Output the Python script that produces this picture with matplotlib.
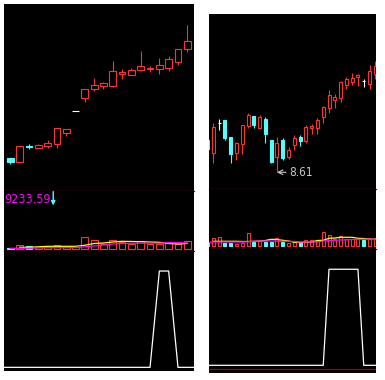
import matplotlib
matplotlib.use('Agg')
import matplotlib.pyplot as plt
import numpy as np
from matplotlib.patches import Rectangle

# left chart: 20 daily candles
l_open = [5.66, 5.59, 5.90, 5.87, 5.91, 5.95, 6.17, 6.61, 6.87, 7.05,
          7.11, 7.11, 7.35, 7.33, 7.43, 7.44, 7.45, 7.47, 7.59, 7.85]
l_high = [5.66, 5.90, 5.94, 5.94, 6.02, 6.26, 6.25, 6.61, 7.04, 7.26,
          7.19, 7.60, 7.44, 7.46, 7.80, 7.51, 7.66, 7.70, 7.84, 8.32]
l_low = [5.55, 5.59, 5.85, 5.87, 5.87, 5.87, 6.11, 6.61, 6.79, 7.01,
         7.05, 7.09, 7.25, 7.33, 7.41, 7.39, 7.35, 7.41, 7.53, 7.79]
l_close = [5.59, 5.90, 5.89, 5.92, 5.96, 6.26, 6.25, 6.61, 7.04, 7.13,
           7.16, 7.40, 7.37, 7.42, 7.49, 7.47, 7.52, 7.64, 7.84, 7.99]
l_vol = [160, 544, 384, 224, 224, 544, 224, 224, 1824, 1344,
         752, 1392, 1024, 752, 1232, 752, 752, 1072, 752, 1232]
l_vma1 = [64, 64, 64, 128, 160, 160, 160, 192, 304, 432,
          592, 752, 832, 864, 880, 880, 880, 992, 976, 912]
l_vma2 = [np.nan, 224, 224, 304, 384, 384, 384, 384, 544, 832,
          912, 1072, 1184, 1152, 1120, 1072, 1024, 832, 752, 832]
# signal, one value per day from day -1 to day 20
l_sig = [0, 0, 0, 0, 0, 0, 0, 0, 0, 0, 0, 0, 0, 0, 0, 0, 0, 1, 1, 0, 0, 0]
l_vol_label = '9233.59'

# right chart: 30 daily candles
r_open = [9.26, 8.99, 9.60, 9.66, 9.32, 8.99, 9.17, 9.54, 9.74, 9.50,
          9.68, 9.26, 8.92, 9.26, 8.92, 9.16, 9.32, 9.24, 9.50, 9.50,
          9.72, 9.90, 10.06, 10.10, 10.36, 10.42, 10.51, 10.44, 10.38, 10.58]
r_high = [9.26, 9.60, 9.68, 9.66, 9.32, 9.22, 9.56, 9.80, 9.74, 9.76,
          9.72, 9.26, 9.32, 9.30, 9.12, 9.36, 9.36, 9.56, 9.58, 9.70,
          9.94, 10.26, 10.18, 10.44, 10.52, 10.60, 10.58, 10.48, 10.76, 10.84]
r_low = [9.08, 8.80, 9.46, 9.26, 8.79, 8.86, 8.98, 9.50, 9.50, 9.48,
         9.20, 8.80, 8.61, 8.86, 8.88, 9.06, 9.14, 9.20, 9.38, 9.38,
         9.60, 9.80, 9.90, 10.02, 10.28, 10.36, 10.34, 10.32, 10.28, 10.48]
r_close = [9.08, 9.52, 9.60, 9.30, 8.98, 9.20, 9.56, 9.76, 9.56, 9.72,
           9.38, 8.82, 9.20, 8.90, 9.06, 9.30, 9.24, 9.52, 9.54, 9.66,
           9.92, 10.16, 10.12, 10.42, 10.48, 10.50, 10.55, 10.44, 10.64, 10.74]
r_vol = [528, 1328, 1488, 528, 528, 368, 528, 2128, 688, 848,
         688, 688, 1328, 688, 528, 688, 528, 1008, 1008, 848,
         2288, 1808, 1168, 1648, 1168, 1168, 1168, 1008, 1328, 1328]
r_vma1 = [608, 688, 688, 688, 688, 688, 688, 720, 816, 848,
          848, 848, 816, 800, 800, 768, 688, 688, 688, 688,
          848, 928, 960, 1008, 1040, 1088, 1120, 1120, 1120, 1120]
r_vma2 = [np.nan, 800, 800, 800, 800, 800, 768, 768, 800, 848,
          928, 1120, 1088, 960, 848, 640, 640, 640, 688, 928,
          960, 1280, 1328, 1440, 1440, 1440, 1280, 1248, 1120, 1120]
# signal, day -1 to day 30
r_sig = [0, 0, 0, 0, 0, 0, 0, 0, 0, 0, 0, 0, 0, 0, 0, 0, 0, 0, 0, 0,
         0, 0, 1, 1, 1, 1, 1, 1, 0, 0, 0, 0]
r_low_label = '8.61'

RED = '#ff3232'
CYAN = '#54fcfc'
DARKRED = '#a00000'

W, H = 385, 380
fig = plt.figure(figsize=(W / 100, H / 100), dpi=100)


def add_ax(x0, y0, x1, y1):
    ax = fig.add_axes([x0 / W, 1 - y1 / H, (x1 - x0) / W, (y1 - y0) / H])
    ax.set_facecolor('black')
    ax.set_xticks([])
    ax.set_yticks([])
    for s in ax.spines.values():
        s.set_visible(False)
    return ax


def candle_color(o, c, i):
    if c[i] > o[i]:
        return RED
    if c[i] < o[i]:
        return CYAN
    return 'white'


def vol_color(o, c, i):
    col = candle_color(o, c, i)
    if col == 'white':
        col = RED if i > 0 and c[i] >= c[i - 1] else CYAN
    return col


def draw_candles(ax, o, h, l, c, width):
    for i in range(len(o)):
        col = candle_color(o, c, i)
        ax.vlines(i, l[i], h[i], color=col, lw=0.8, zorder=2)
        if o[i] == c[i]:
            ax.hlines(o[i], i - width / 2, i + width / 2, color=col, lw=0.8, zorder=3)
        else:
            lo, hi = min(o[i], c[i]), max(o[i], c[i])
            face = 'black' if c[i] > o[i] else col
            ax.add_patch(Rectangle((i - width / 2, lo), width, hi - lo,
                                   facecolor=face, edgecolor=col, lw=0.8, zorder=3))


def draw_volume(ax, o, c, v, ma1, ma2, width):
    x = np.arange(len(v))
    cols = [vol_color(o, c, i) for i in range(len(v))]
    faces = ['black' if col == RED else col for col in cols]
    ax.bar(x, v, width=width, color=faces, edgecolor=cols, lw=0.8, zorder=2)
    ax.plot(x, ma2, color='#ffff00', lw=0.9, zorder=3)
    ax.plot(x, ma1, color='#ff00ff', lw=0.9, zorder=4)


def sep_line(ax):
    ax.spines['bottom'].set_visible(True)
    ax.spines['bottom'].set_color(DARKRED)
    ax.spines['bottom'].set_linewidth(0.9)


# ---- left chart
lxl = (-0.68, 19.72)
ax1 = add_ax(4, 4, 194, 191)
draw_candles(ax1, l_open, l_high, l_low, l_close, 0.72)
ax1.set_xlim(*lxl)
ax1.set_ylim(5.0, 8.74)
sep_line(ax1)

ax2 = add_ax(4, 191, 194, 251)
draw_volume(ax2, l_open, l_close, l_vol, l_vma1, l_vma2, 0.72)
ax2.set_xlim(*lxl)
ax2.set_ylim(-368, 9233.59)
sep_line(ax2)
ax2.text(0.002, 0.965, l_vol_label, transform=ax2.transAxes, color='#ff00ff',
         fontsize=9, family='DejaVu Sans', fontstretch='condensed', va='top', ha='left')
ax2.annotate('', xy=(0.259, 0.76), xytext=(0.259, 0.99), xycoords='axes fraction',
             arrowprops=dict(arrowstyle='-|>', color=CYAN, lw=1, mutation_scale=6,
                             shrinkA=0, shrinkB=0))

ax3 = add_ax(4, 251, 194, 371)
ax3.plot(np.arange(-1, len(l_sig) - 1), l_sig, color='white', lw=0.9)
ax3.set_xlim(*lxl)
ax3.set_ylim(-0.038, 1.208)

# ---- right chart
rxl = (0.257, 29.12)
bx1 = add_ax(209, 14, 376, 189)
draw_candles(bx1, r_open, r_high, r_low, r_close, 0.52)
bx1.set_xlim(*rxl)
bx1.set_ylim(8.276, 11.776)
sep_line(bx1)
lo_i = int(np.argmin(r_low))
bx1.annotate(r_low_label, xy=(lo_i, r_low[lo_i]), xytext=(8.5, 0), textcoords='offset points',
             color='#c8c8c8', fontsize=8.5, family='DejaVu Sans', fontstretch='condensed',
             va='center', ha='left',
             arrowprops=dict(arrowstyle='->', color='#c8c8c8', lw=0.8, shrinkA=0, shrinkB=0))

bx2 = add_ax(209, 189, 376, 249)
draw_volume(bx2, r_open, r_close, r_vol, r_vma1, r_vma2, 0.52)
bx2.set_xlim(*rxl)
bx2.set_ylim(-432, 9168)
sep_line(bx2)

bx3 = add_ax(209, 249, 376, 372.7)
bx3.plot(np.arange(-1, len(r_sig) - 1), r_sig, color='white', lw=0.9)
bx3.plot([0, 1], [0.027, 0.027], transform=bx3.transAxes, color=DARKRED, lw=0.9)
bx3.set_xlim(*rxl)
bx3.set_ylim(-0.077, 1.211)

fig.savefig('out.png', dpi=100, facecolor='white')
